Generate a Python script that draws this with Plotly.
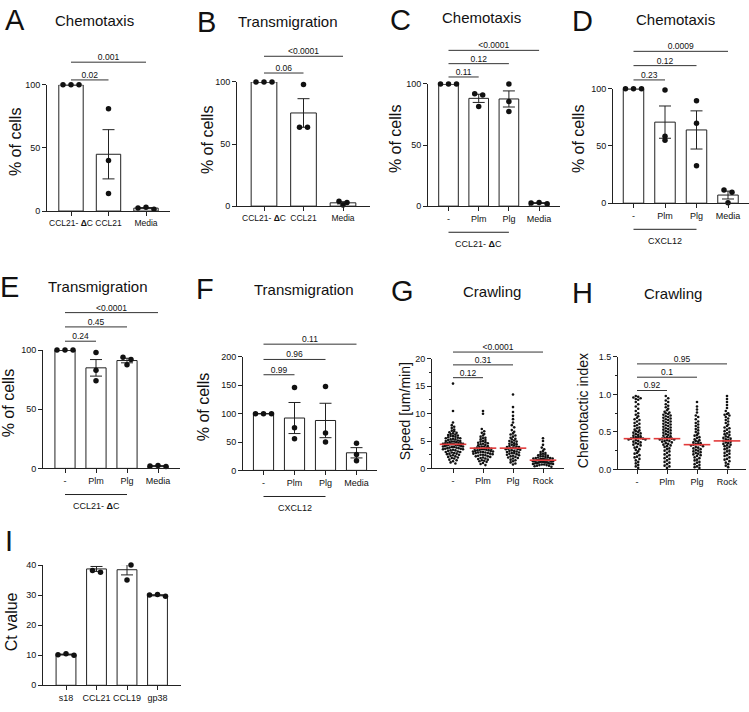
import numpy as np
import plotly.graph_objects as go

W, H = 749, 712

# ---------------- data ----------------
DC = "CCL21- <b>Δ</b>C"
a_labels = [DC, "CCL21", "Media"]
a_ccl21dc = [100, 100, 100]
a_ccl21 = [81, 40, 14]
a_media = [1.5, 2.5, 3.0]
a_pvals = ["0.02", "0.001"]

b_labels = [DC, "CCL21", "Media"]
b_ccl21dc = [100, 100, 100]
b_ccl21 = [98, 63.5, 63.5]
b_media = [1.0, 3.0, 4.0]
b_pvals = ["0.06", "<0.0001"]

c_labels = ["-", "Plm", "Plg", "Media"]
c_none = [100, 100, 100]
c_plm = [92, 91, 81.5]
c_plg = [100, 85.5, 77.5]
c_media = [2.0, 2.5, 3.0]
c_pvals = ["0.11", "0.12", "<0.0001"]
c_group = DC

d_labels = ["-", "Plm", "Plg", "Media"]
d_none = [100, 100, 100]
d_plm = [99, 58.6, 55]
d_plg = [89.6, 69.8, 32.7]
d_media = [11.5, 9.5, 0.3]
d_pvals = ["0.23", "0.12", "0.0009"]
d_group = "CXCL12"

e_labels = ["-", "Plm", "Plg", "Media"]
e_none = [100, 100, 100]
e_plm = [98, 83, 74]
e_plg = [94, 92, 87.5]
e_media = [1.5, 2.0, 2.5]
e_pvals = ["0.24", "0.45", "<0.0001"]
e_group = DC

f_labels = ["-", "Plm", "Plg", "Media"]
f_none = [100, 100, 100]
f_plm = [146, 75, 56]
f_plg = [148, 66, 50]
f_media = [48, 28, 17]
f_pvals = ["0.99", "0.96", "0.11"]
f_group = "CXCL12"

g_labels = ["-", "Plm", "Plg", "Rock"]
g_none = [15.5, 10.5, 8.4, 7.9, 7.6, 7.4, 7.1, 6.9, 6.8, 6.6, 6.5, 6.4, 6.3, 6.2, 6.1, 6.0,
          5.9, 5.9, 5.8, 5.7, 5.6, 5.5, 5.5, 5.4, 5.3, 5.3, 5.2, 5.1, 5.0, 5.0, 4.9, 4.9,
          4.8, 4.8, 4.7, 4.7, 4.6, 4.6, 4.5, 4.5, 4.4, 4.4, 4.4, 4.3, 4.3, 4.3, 4.2, 4.2,
          4.1, 4.1, 4.0, 4.0, 3.9, 3.9, 3.8, 3.8, 3.7, 3.7, 3.6, 3.6, 3.5, 3.5, 3.4, 3.3,
          3.3, 3.2, 3.1, 3.0, 3.0, 2.9, 2.8, 2.7, 2.7, 2.6, 2.5, 2.4, 2.3, 2.2, 2.1, 2.0,
          1.9, 1.8, 1.6, 1.5, 1.3, 1.1, 0.9]
g_plm = [10.5, 10.0, 7.2, 6.8, 6.5, 6.3, 6.0, 5.8, 5.6, 5.5, 5.3, 5.2, 5.0, 4.9, 4.8, 4.7,
         4.6, 4.5, 4.4, 4.3, 4.2, 4.1, 4.0, 4.0, 3.9, 3.8, 3.8, 3.7, 3.6, 3.6, 3.5, 3.5,
         3.4, 3.4, 3.3, 3.3, 3.2, 3.2, 3.1, 3.1, 3.0, 3.0, 2.9, 2.9, 2.8, 2.8, 2.7, 2.7,
         2.6, 2.5, 2.5, 2.4, 2.3, 2.2, 2.2, 2.1, 2.0, 1.9, 1.8, 1.7, 1.6, 1.5, 1.4, 1.3,
         1.2, 1.0, 0.8, 0.6]
g_plg = [13.5, 11.2, 10.3, 9.6, 9.0, 8.4, 7.9, 7.5, 7.0, 6.7, 6.4, 6.2, 6.0, 5.8, 5.6, 5.4,
         5.3, 5.1, 5.0, 4.9, 4.8, 4.6, 4.5, 4.4, 4.3, 4.2, 4.1, 4.0, 3.9, 3.9, 3.8, 3.7,
         3.7, 3.6, 3.5, 3.5, 3.4, 3.3, 3.2, 3.2, 3.1, 3.0, 2.9, 2.8, 2.8, 2.7, 2.6, 2.5,
         2.4, 2.3, 2.2, 2.1, 2.0, 1.9, 1.8, 1.6, 1.5, 1.3, 1.1, 0.9, 0.7]
g_rock = [5.5, 5.0, 4.3, 3.8, 3.5, 3.2, 3.0, 2.8, 2.7, 2.6, 2.5, 2.4, 2.3, 2.2, 2.2, 2.1,
          2.0, 2.0, 1.9, 1.9, 1.8, 1.8, 1.7, 1.7, 1.7, 1.6, 1.6, 1.6, 1.5, 1.5, 1.5, 1.5,
          1.4, 1.4, 1.4, 1.3, 1.3, 1.3, 1.2, 1.2, 1.2, 1.1, 1.1, 1.1, 1.0, 1.0, 1.0, 0.9,
          0.9, 0.9, 0.8, 0.8, 0.7, 0.7, 0.6, 0.6, 0.5, 0.5, 0.4, 0.3]
g_centre = [4.4, 3.7, 3.7, 1.5]
g_pvals = ["0.12", "0.31", "<0.0001"]

h_labels = ["-", "Plm", "Plg", "Rock"]
h_none = [0.98, 0.97, 0.96, 0.95, 0.94, 0.93, 0.90, 0.87, 0.84, 0.81, 0.78, 0.75, 0.73, 0.71,
          0.69, 0.67, 0.66, 0.64, 0.62, 0.61, 0.59, 0.58, 0.56, 0.55, 0.53, 0.52, 0.51, 0.50,
          0.49, 0.48, 0.47, 0.46, 0.45, 0.44, 0.43, 0.43, 0.42, 0.42, 0.41, 0.41, 0.40, 0.40,
          0.39, 0.38, 0.37, 0.36, 0.35, 0.34, 0.33, 0.32, 0.30, 0.29, 0.27, 0.26, 0.24, 0.22,
          0.21, 0.19, 0.17, 0.16, 0.14, 0.12, 0.10, 0.08, 0.06, 0.04, 0.02]
h_plm = [0.98, 0.95, 0.92, 0.90, 0.87, 0.85, 0.83, 0.81, 0.79, 0.77, 0.76, 0.75, 0.74, 0.73,
         0.72, 0.71, 0.70, 0.69, 0.68, 0.67, 0.66, 0.65, 0.64, 0.63, 0.62, 0.61, 0.60, 0.59,
         0.58, 0.57, 0.56, 0.55, 0.54, 0.53, 0.52, 0.51, 0.50, 0.49, 0.48, 0.47, 0.46, 0.45,
         0.44, 0.43, 0.42, 0.42, 0.41, 0.41, 0.40, 0.40, 0.39, 0.38, 0.38, 0.37, 0.36, 0.35,
         0.34, 0.33, 0.32, 0.31, 0.30, 0.28, 0.27, 0.25, 0.24, 0.22, 0.20, 0.19, 0.17, 0.15,
         0.14, 0.12, 0.10, 0.09, 0.07, 0.05, 0.04, 0.02]
h_plg = [0.90, 0.84, 0.80, 0.76, 0.72, 0.70, 0.67, 0.64, 0.62, 0.60, 0.58, 0.56, 0.54, 0.52,
         0.50, 0.48, 0.46, 0.45, 0.43, 0.42, 0.40, 0.39, 0.38, 0.37, 0.36, 0.35, 0.34, 0.34,
         0.33, 0.33, 0.32, 0.31, 0.30, 0.29, 0.28, 0.27, 0.26, 0.25, 0.24, 0.23, 0.22, 0.21,
         0.20, 0.19, 0.18, 0.16, 0.15, 0.13, 0.12, 0.10, 0.09, 0.07, 0.06, 0.04, 0.03, 0.02]
h_rock = [0.98, 0.94, 0.90, 0.86, 0.82, 0.78, 0.75, 0.74, 0.73, 0.72, 0.70, 0.68, 0.66, 0.64,
          0.62, 0.60, 0.58, 0.56, 0.55, 0.53, 0.51, 0.50, 0.48, 0.47, 0.46, 0.44, 0.43, 0.42,
          0.41, 0.40, 0.39, 0.38, 0.37, 0.36, 0.35, 0.34, 0.33, 0.32, 0.31, 0.30, 0.28, 0.27,
          0.25, 0.24, 0.22, 0.21, 0.19, 0.18, 0.16, 0.14, 0.13, 0.11, 0.09, 0.07, 0.05, 0.03]
h_centre = [0.41, 0.41, 0.33, 0.38]
h_pvals = ["0.92", "0.1", "0.95"]

i_labels = ["s18", "CCL21", "CCL19", "gp38"]
i_s18 = [10.0, 10.2, 10.5]
i_ccl21 = [40.3, 38.2, 37.6]
i_ccl19 = [40.3, 40.0, 35.0]
i_gp38 = [29.6, 30.0, 30.2]

# ---------------- layout specs (pixels) ----------------
AX = "#222222"
RED = "#e23b3b"
FONT = "Arial, Liberation Sans, sans-serif"

specs = {
    1: dict(labels=a_labels, xfs=8.5, left=47, c0=71, d=37.5, y0=209, y1=81, yr=[0, 100],
            yt=[0, 50, 100], sig=[76, 58], letter=("A", 15, 15), title=("Chemotaxis", 94, 16),
            ytitle=("% of cells", 15, 139, 16)),
    2: dict(labels=b_labels, xfs=8.5, left=237, c0=264, d=39.5, y0=204, y1=78, yr=[0, 100],
            yt=[0, 50, 100], sig=[69, 52], letter=("B", 206, 17),
            title=("Transmigration", 287, 17), ytitle=("% of cells", 207, 137, 16)),
    3: dict(labels=c_labels, left=428, c0=448.5, d=30.2, y0=204, y1=80, yr=[0, 100], yt=[0, 50, 100],
            sig=[73, 58, 46], letter=("C", 400, 15), title=("Chemotaxis", 482, 13),
            ytitle=("% of cells", 395, 136, 16), group=c_group),
    4: dict(labels=d_labels, left=613, c0=633.5, d=31.5, y0=201, y1=85, yr=[0, 100], yt=[0, 50, 100],
            sig=[76, 61, 47], letter=("D", 582, 16), title=("Chemotaxis", 675, 15),
            ytitle=("% of cells", 578, 136, 16), group=d_group),
    5: dict(labels=e_labels, left=43, c0=65, d=31, y0=470, y1=350, yr=[0, 100], yt=[0, 50, 100],
            sig=[341, 325, 312], letter=("E", 9, 286), title=("Transmigration", 97, 286),
            ytitle=("% of cells", 8, 404, 16), group=e_group),
    6: dict(labels=f_labels, left=243, c0=263.5, d=31, y0=472, y1=357, yr=[0, 200],
            yt=[0, 50, 100, 150, 200],
            sig=[375, 360, 344], letter=("F", 205, 288), title=("Transmigration", 303, 289),
            ytitle=("% of cells", 203, 408, 16), group=f_group),
    7: dict(labels=g_labels, left=432, c0=453, d=30, y0=470, y1=359, yr=[0, 20], yt=[0, 5, 10, 15, 20],
            minor=2.5, sig=[378, 366, 352], letter=("G", 402, 290), title=("Crawling", 492, 291),
            ytitle=("Speed [um/min]", 405, 412, 14)),
    8: dict(labels=h_labels, left=618, c0=637, d=30, y0=471, y1=357, yr=[0, 1.5],
            yt=[0, 0.5, 1.0, 1.5], ytext=["0.0", "0.5", "1.0", "1.5"], minor=0.25,
            sig=[391, 377, 364], letter=("H", 582, 292), title=("Crawling", 673, 293),
            ytitle=("Chemotactic index", 583, 412, 14)),
    9: dict(labels=i_labels, left=43, c0=66, d=30.5, y0=690, y1=568, yr=[0, 40],
            yt=[0, 10, 20, 30, 40], letter=("I", 9, 544), title=None,
            ytitle=("Ct value", 11, 626, 16)),
}

fig = go.Figure()
layout = dict(width=W, height=H, margin=dict(l=0, r=0, t=0, b=0, pad=0), autosize=False,
              paper_bgcolor="white", plot_bgcolor="rgba(0,0,0,0)", showlegend=False,
              font=dict(family=FONT, color="#111111", size=9))
annotations = []
shapes = []


def setup(k, s):
    n = len(s["labels"])
    right = s["c0"] + (n - 1) * s["d"] + (s["c0"] - s["left"])
    xr = [(s["left"] - s["c0"]) / s["d"], (right - s["c0"]) / s["d"]]
    layout[f"xaxis{k}"] = dict(domain=[s["left"] / W, right / W], range=xr, anchor=f"y{k}",
                               tickvals=list(range(n)), ticktext=s["labels"], showline=True,
                               linecolor=AX, linewidth=1, ticks="outside", ticklen=4, tickwidth=1,
                               tickcolor=AX, showgrid=False, zeroline=False, tickangle=0,
                               tickfont=dict(size=s.get("xfs", 9), color="#111111"),
                               fixedrange=True)
    yax = dict(domain=[1 - s["y0"] / H, 1 - s["y1"] / H], range=s["yr"], anchor=f"x{k}",
               tickvals=s["yt"], showline=True, linecolor=AX, linewidth=1, ticks="outside",
               ticklen=4, tickwidth=1, tickcolor=AX, showgrid=False, zeroline=False,
               tickfont=dict(size=9, color="#111111"), fixedrange=True)
    if "ytext" in s:
        yax["ticktext"] = s["ytext"]
    if "minor" in s:
        yax["minor"] = dict(ticks="outside", ticklen=2, dtick=s["minor"], tickcolor=AX, showgrid=False)
    layout[f"yaxis{k}"] = yax
    if "sig" in s:
        lv = s["sig"]
        m = len(lv)
        sp = (lv[0] - lv[-1]) / (m - 1)
        bot = lv[0] + sp / 2
        if lv[0] < s["y1"]:
            bot = min(bot, s["y1"] - 1)
        top = lv[-1] - sp / 2
        rng = [1 + (lv[0] - bot) / sp, 1 + (lv[0] - top) / sp]
        layout[f"yaxis{k + 10}"] = dict(domain=[1 - bot / H, 1 - top / H], range=rng,
                                        anchor=f"x{k}", visible=False, fixedrange=True)
    # letter, title, y title
    L, lx, ly = s["letter"]
    annotations.append(dict(text=L, x=lx / W, y=1 - ly / H, xref="paper", yref="paper",
                            xanchor="center", yanchor="middle", showarrow=False,
                            font=dict(size=29, color="#111111")))
    if s["title"]:
        t, tx, ty = s["title"]
        annotations.append(dict(text=t, x=tx / W, y=1 - ty / H, xref="paper", yref="paper",
                                xanchor="center", yanchor="middle", showarrow=False,
                                font=dict(size=15, color="#111111")))
    t, tx, ty, fs = s["ytitle"]
    annotations.append(dict(text=t, x=tx / W, y=1 - ty / H, xref="paper", yref="paper",
                            xanchor="center", yanchor="middle", showarrow=False, textangle=-90,
                            font=dict(size=fs, color="#111111")))
    if "group" in s:
        yl = 1 - (s["y0"] + 26.5) / H
        shapes.append(dict(type="line", xref=f"x{k}", yref="paper", x0=0, x1=2, y0=yl, y1=yl,
                           line=dict(color=AX, width=1)))
        annotations.append(dict(text=s["group"], x=1, y=1 - (s["y0"] + 38) / H, xref=f"x{k}",
                                yref="paper", xanchor="center", yanchor="middle", showarrow=False,
                                font=dict(size=9, color="#111111")))


def swarm(vals, ppu, row_h, dx, max_half):
    vals = np.asarray(vals, dtype=float)
    order = list(np.argsort(-vals, kind="stable"))
    offs = np.zeros(len(vals))
    rows, cur = [], [order[0]]
    for idx in order[1:]:
        if (vals[cur[0]] - vals[idx]) * ppu < row_h:
            cur.append(idx)
        else:
            rows.append(cur)
            cur = [idx]
    rows.append(cur)
    for r in rows:
        n = len(r)
        step = dx
        if n > 1 and (n - 1) * dx / 2 > max_half:
            step = 2 * max_half / (n - 1)
        slots = sorted([(j - (n - 1) / 2) * step for j in range(n)], key=lambda v: (abs(v), v))
        for j, idx in enumerate(r):
            offs[idx] = slots[j]
    return offs


def add_points(k, s, groups, size, row_h, dx, max_half):
    ppu = (s["y0"] - s["y1"]) / (s["yr"][1] - s["yr"][0])
    xs, ys = [], []
    for i, g in enumerate(groups):
        offs = swarm(g, ppu, row_h, dx, max_half)
        xs += list(i + offs / s["d"])
        ys += list(g)
    fig.add_trace(go.Scatter(x=xs, y=ys, mode="markers", marker=dict(size=size, color="#111111"),
                             cliponaxis=False, xaxis=f"x{k}", yaxis=f"y{k}", hoverinfo="skip"))


def add_bars(k, s, groups):
    means = [float(np.mean(g)) for g in groups]
    sems = [float(np.std(g, ddof=1) / np.sqrt(len(g))) for g in groups]
    fig.add_trace(go.Bar(x=list(range(len(groups))), y=means, width=0.65,
                         marker=dict(color="white", line=dict(color=AX, width=1)),
                         error_y=dict(type="data", array=sems, visible=True, color=AX,
                                      thickness=1, width=6),
                         cliponaxis=False, xaxis=f"x{k}", yaxis=f"y{k}", hoverinfo="skip"))
    add_points(k, s, groups, 5.5, 3.5, 8, 10)


def add_sig(k, pvals):
    for lev, p in enumerate(pvals, start=1):
        fig.add_trace(go.Scatter(x=[0, lev / 2, lev], y=[lev, lev, lev], mode="lines+text",
                                 text=["", p, ""], textposition="top center",
                                 textfont=dict(size=8.5, color="#111111"),
                                 line=dict(color="#333333", width=1), cliponaxis=False,
                                 xaxis=f"x{k}", yaxis=f"y{k + 10}", hoverinfo="skip"))


def add_centre(k, centre):
    fig.add_trace(go.Scatter(x=list(range(len(centre))), y=centre, mode="markers",
                             marker=dict(symbol="line-ew", size=19, color=RED,
                                         line=dict(color=RED, width=1.6)),
                             cliponaxis=False, xaxis=f"x{k}", yaxis=f"y{k}", hoverinfo="skip"))


for k, s in specs.items():
    setup(k, s)

add_bars(1, specs[1], [a_ccl21dc, a_ccl21, a_media]); add_sig(1, a_pvals)
add_bars(2, specs[2], [b_ccl21dc, b_ccl21, b_media]); add_sig(2, b_pvals)
add_bars(3, specs[3], [c_none, c_plm, c_plg, c_media]); add_sig(3, c_pvals)
add_bars(4, specs[4], [d_none, d_plm, d_plg, d_media]); add_sig(4, d_pvals)
add_bars(5, specs[5], [e_none, e_plm, e_plg, e_media]); add_sig(5, e_pvals)
add_bars(6, specs[6], [f_none, f_plm, f_plg, f_media]); add_sig(6, f_pvals)
add_points(7, specs[7], [g_none, g_plm, g_plg, g_rock], 2.6, 2.4, 2.4, 10)
add_centre(7, g_centre); add_sig(7, g_pvals)
add_points(8, specs[8], [h_none, h_plm, h_plg, h_rock], 2.6, 2.6, 2.4, 9)
add_centre(8, h_centre); add_sig(8, h_pvals)
add_bars(9, specs[9], [i_s18, i_ccl21, i_ccl19, i_gp38])

layout["annotations"] = annotations
layout["shapes"] = shapes
fig.update_layout(**layout)
fig.write_html("out.html")
